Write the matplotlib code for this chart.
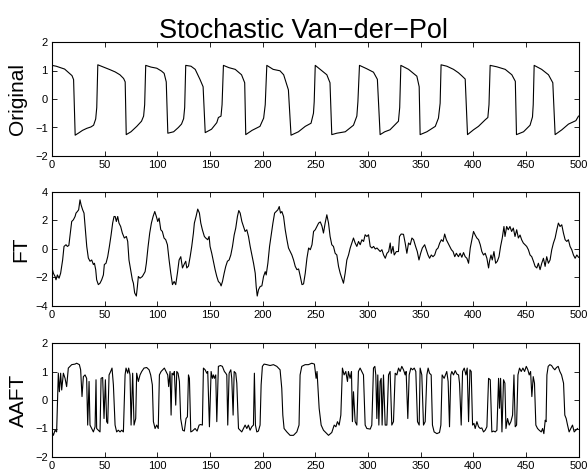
import matplotlib
matplotlib.use('Agg')
import matplotlib.pyplot as plt

# values
orig_t = [0, 4, 8, 12, 16, 19, 20.5, 22, 25, 29, 33, 37, 39.5, 41.5, 42.5, 43.5, 49, 55, 60, 64.5, 68, 69.5,
          70.5, 75, 80.5, 85, 87, 88, 89, 94, 99.5, 104, 106.5, 108.5, 110, 115.5, 120, 123, 125, 126, 127,
          132, 136, 140.5, 143.5, 145.5, 151.5, 156.5, 158, 160.5, 161.5, 162.8, 168, 174, 180, 183, 184,
          190, 197.5, 201, 202.5, 204, 210, 216.5, 220, 224.5, 227, 234, 240.5, 246, 248.3, 249, 250,
          254.6, 261, 264, 265.7, 270.5, 278.5, 286.3, 289.5, 290.5, 292, 299, 305.3, 309, 311.6, 316, 321,
          329, 330.2, 331.3, 338.6, 346.5, 348.7, 349.6, 356, 364, 367, 368.6, 369.5, 375, 381.3, 386, 389,
          392.4, 394.6, 400.3, 405, 411.4, 413.9, 415, 416.1, 422.4, 430.4, 436.7, 440, 441.1, 447.8, 454,
          456.3, 457, 457.9, 465, 471.5, 475.6, 477.8, 484.2, 490.5, 495.3, 497.5, 500]
orig_y = [1.18, 1.15, 1.1, 1.05, 0.92, 0.82, 0.68, -1.27, -1.2, -1.1, -1.03, -0.98, -0.92, -0.7, -0.3, 1.2, 1.12,
          1.03, 0.95, 0.85, 0.72, 0.6, -1.25, -1.15, -0.96, -0.78, -0.6, -0.2, 1.18, 1.12, 1.08, 0.98, 0.9, 0.6,
          -1.2, -1.15, -1.0, -0.88, -0.69, -0.3, 1.18, 1.15, 1.04, 0.69, 0.43, -1.18, -1.06, -0.83, -0.65, -0.6,
          -0.2, 1.18, 1.1, 1.04, 0.85, 0.57, -1.25, -1.1, -0.96, -0.67, -0.2, 1.18, 1.04, 0.99, 0.85, 0.32,
          -1.27, -1.15, -0.96, -0.85, -0.5, -0.1, 1.18, 1.04, 0.85, 0.57, -1.25, -1.2, -1.15, -0.92, -0.6,
          -0.1, 1.18, 1.06, 0.94, 0.69, -1.25, -1.15, -1.08, -0.78, -0.3, 1.18, 1.04, 0.8, 0.43, -1.25, -1.15,
          -0.96, -0.67, -0.15, 1.2, 1.15, 1.04, 0.92, 0.82, 0.7, -1.25, -1.08, -0.96, -0.73, -0.65, -0.2, 1.18,
          1.13, 1.04, 0.85, 0.62, -1.25, -1.15, -0.92, -0.63, -0.2, 1.18, 1.04, 0.85, 0.57, -1.25, -1.08,
          -0.88, -0.8, -0.76, -0.6]

ft_t = [0, 1.3, 2.9, 3.8, 5.1, 6.7, 8.2, 10.1, 11.4, 13.3, 14.6, 16, 17.7, 18.7, 20.3, 21.9, 22.8, 24.1, 25.3,
        26.6, 27.6, 29.1, 30.4, 32, 33, 34.5, 36.1, 37.7, 39.3, 40.3, 41.5, 42.4, 44, 45.6, 47.2, 48.8, 49.7,
        51.3, 52.9, 54.5, 56.1, 57.6, 58.9, 60, 61.1, 62.4, 63.6, 65.2, 66.8, 68.7, 70.6, 71.9, 73.1, 74.7,
        76.3, 77.3, 78.5, 80.1, 81.1, 82, 83.6, 85.8, 88.4, 89.6, 91.2, 92.8, 94.4, 96, 97.6, 99.1, 100.4,
        101.7, 103.3, 104.8, 106.4, 108, 109.6, 111.2, 112.8, 114.4, 116, 117.5, 119.1, 120.7, 122.3, 123.9,
        125.4, 127, 128, 129.6, 131.2, 132.7, 134.3, 135.2, 136.8, 138.4, 140, 141.3, 142.8, 144.7, 146,
        147.9, 149.2, 150.1, 151.7, 153.3, 154.9, 156.5, 158, 159.6, 160.6, 161.9, 163.5, 165, 166.6, 168.2,
        169.8, 171.4, 173, 174.5, 176.1, 177.4, 178.7, 180.3, 181.9, 183.4, 185, 186.6, 188.2, 189.8, 191.4,
        193, 193.9, 194.9, 196.1, 197.7, 199.3, 200.9, 202.5, 203.4, 205, 206.6, 208.2, 209.8, 211.4, 212.9,
        214.5, 215.8, 217, 218.3, 219.9, 221.5, 223.1, 224.6, 226.2, 227.8, 229.4, 231, 232.6, 234.2, 235.8,
        237.4, 238.9, 240.5, 242.1, 243.7, 245.3, 246.9, 248.4, 250, 251.6, 253.2, 254.8, 256.4, 257.8,
        259.4, 261, 262.6, 264.1, 265.7, 267.3, 268.9, 270.5, 272.1, 273.7, 275.2, 276.8, 278.4, 280, 281.6,
        283.2, 284.8, 286.3, 287.9, 289.5, 291.1, 292.7, 294.3, 295.9, 297.4, 299, 300.6, 302.2, 303.8,
        305.4, 307, 308.6, 310.1, 311.7, 313.3, 314.9, 316.5, 318.1, 319.7, 321.2, 322.2, 323.8, 325, 327,
        329, 330, 331.6, 333.8, 335.4, 337, 338.6, 340.2, 341.8, 343.4, 345.3, 346.9, 348.5, 350.1, 351.7,
        353.9, 355.5, 357.1, 358.6, 360.2, 361.8, 363.4, 365, 366.6, 368.2, 369.8, 371.4, 372.9, 374.5,
        376.1, 377.7, 379.3, 380.9, 382.5, 384, 386, 387.6, 389.2, 390.8, 392.4, 394, 395.6, 397.2, 398.7,
        400.3, 401.9, 403.5, 405.1, 406.7, 408.2, 409.8, 411.4, 413, 414.6, 415.5, 416.9, 418.1, 419.7,
        421.3, 422.9, 424.5, 426, 427.6, 429.2, 430.2, 431.8, 433.3, 434.9, 436.5, 438.1, 439.7, 441.3,
        442.9, 444.5, 446, 447.6, 449.2, 450.8, 452.4, 454, 455.6, 457.2, 458.8, 460.4, 461.9, 463.5, 465.1,
        466.7, 468.3, 469.8, 471.4, 473, 474.6, 476.2, 477.8, 479.4, 480.9, 482.5, 484.1, 485.7, 487.3,
        488.9, 490.4, 492, 493.6, 495.2, 496.8, 498.4, 500]
ft_y = [-1.33, -1.7, -1.93, -2.16, -1.82, -2.05, -1.7, -0.77, 0.18, 0.3, 0.18, 0.25, 1.35, 1.93, 2.05, 2.28, 2.52,
        2.63, 2.75, 3.45, 3.1, 2.75, 2.52, 1.12, 0.18, -0.63, -0.86, -0.77, -1.09, -1.0, -1.45, -2.16, -2.5,
        -2.4, -2.16, -1.82, -1.09, -1.0, -0.54, 0.18, 0.98, 1.82, 2.28, 2.28, 1.93, 2.28, 1.82, 1.58, 1.12,
        0.77, 0.88, 0.53, -0.77, -1.45, -2.16, -2.4, -3.08, -3.3, -2.63, -1.93, -2.05, -1.93, -1.59, -1.0,
        0.14, 1.12, 1.82, 2.28, 2.63, 2.28, 1.93, 2.17, 1.35, 1.23, 0.77, 0.65, 0.3, -0.77, -1.7, -2.5,
        -2.28, -2.5, -1.7, -0.77, -0.54, -1.33, -1.09, -0.86, -1.33, -1.2, -0.54, 0.18, 1.12, 1.82, 2.28,
        2.8, 2.52, 1.82, 1.35, 0.88, 0.77, 0.65, 0.88, 0.18, -0.3, -0.86, -1.45, -1.93, -2.28, -2.4, -2.59,
        -2.28, -1.7, -1.22, -0.86, -0.77, -0.42, 0.18, 0.98, 1.47, 2.28, 2.7, 2.52, 1.93, 1.58, 1.23, 1.35,
        0.88, 0.18, -0.42, -1.0, -1.7, -2.63, -3.3, -2.86, -2.63, -2.59, -1.93, -1.59, -1.82, -1.0, 0.18,
        0.98, 1.82, 2.52, 2.63, 2.75, 2.98, 2.52, 2.63, 2.28, 1.35, 0.65, 0.07, -0.18, -0.42, -0.77, -1.22,
        -1.45, -1.4, -1.93, -2.5, -2.45, -1.7, -0.65, 0.07, -0.05, 0.3, 1.23, 1.35, 1.58, 1.82, 1.9, 1.6,
        1.12, 1.82, 2.4, 1.82, 0.88, 0.3, 0.18, -0.3, -0.42, -1.22, -1.7, -2.05, -2.4, -1.7, -0.77, -0.42,
        0.07, 0.42, 0.77, 0.42, 0.18, 0.53, 0.3, 0.65, 0.53, 1.0, 0.88, 1.0, 0.18, 0.07, 0.18, 0.0, 0.07,
        -0.05, -0.18, -0.05, -0.42, -0.65, -0.3, -0.18, 0.42, -0.3, 0.18, -0.42, -0.18, -0.18, 0.88, 1.05,
        1.03, 0.42, -0.3, 0.42, 0.3, 0.77, 0.65, 0.18, -0.18, -0.77, -0.3, 0.07, 0.3, -0.05, -0.42, -0.65,
        -0.42, -0.54, -0.42, -0.05, 0.07, 0.42, 0.65, 0.53, 1.05, 0.65, 0.42, 0.18, -0.05, -0.18, -0.54,
        -0.3, -0.54, -0.3, -0.58, -0.25, -0.54, -0.65, -1.0, 0.07, 0.65, 1.23, 0.98, 0.77, 0.65, 0.3, -0.18,
        -0.42, -0.3, -0.65, -1.33, -0.86, -0.42, -0.77, -0.18, -1.0, -0.86, -0.54, 0.18, 0.77, 1.58, 0.88,
        1.58, 1.35, 1.58, 1.23, 1.47, 0.88, 1.35, 0.77, 0.98, 0.65, 0.42, 0.3, 0.18, -0.05, -0.42, -0.54,
        -0.86, -1.22, -1.33, -1.0, -1.45, -1.0, -0.65, -1.22, -0.54, -1.0, -0.77, -0.05, 0.42, 0.77, 1.35,
        1.82, 1.58, 1.7, 1.12, 0.65, 0.53, 0.65, 0.18, -0.05, -0.42, -0.65, -0.42, -0.58]

aaft_t = [0, 1.3, 2.9, 4.4, 6, 7, 8.2, 9.2, 10.8, 12.4, 13.9, 15.5, 17.1, 18.7, 21.9, 23.4, 26, 27.2, 28.5, 29.8,
          31.4, 32.9, 33.9, 35.2, 36.1, 37.7, 39.3, 40.9, 41.8, 42.4, 44, 45.6, 46.6, 48.1, 49.4, 50.7, 51.9,
          52.9, 54.2, 55.7, 57, 58.3, 59.9, 61.4, 63, 64.6, 66.2, 67.8, 69.4, 70.3, 71.9, 72.8, 74.1, 75.1,
          76.6, 77.9, 79.5, 80.4, 82, 83.6, 85.2, 87.4, 89.9, 92.2, 93.7, 95.3, 96.3, 97.9, 99.4, 100.9, 102,
          103.6, 105.1, 106.7, 108.3, 109.9, 110.8, 112.1, 113.1, 114, 115.3, 116.2, 117.5, 118.5, 119.7, 121,
          122.2, 124.1, 125.7, 127.3, 128.6, 129.6, 130.5, 131.8, 133.3, 135.9, 137.8, 139.7, 141.2, 142.8,
          143.8, 145.4, 147, 147.9, 149.5, 151.1, 152.3, 153.3, 154.2, 155.5, 156.5, 158, 160, 161.8, 163.7,
          165, 166, 166.9, 168.2, 169.8, 170.7, 172, 173, 174.5, 175.5, 177.1, 180.2, 181.8, 183.4, 185,
          186.5, 188.1, 189.7, 191.3, 192.2, 193.2, 194.5, 196, 197.6, 198.6, 199.8, 201.4, 204, 207.1, 210.3,
          213.5, 216.6, 218.2, 219.2, 220.4, 223, 226.1, 229.3, 232.5, 234.6, 235.6, 237.2, 240.4, 243.5,
          246.7, 249.2, 250.8, 251.7, 253.7, 255.6, 257.8, 259.4, 262.6, 265.7, 268, 269.6, 271.1, 272.7,
          274.3, 275.8, 277.4, 279, 280.6, 281.5, 283.1, 284.4, 285.3, 286.3, 287.9, 289.5, 291, 292.6, 294.2,
          295.8, 297.4, 299, 302.2, 303.7, 305.3, 306.6, 307.5, 308.5, 309.4, 310.4, 311.6, 312.6, 313.5,
          314.8, 316.4, 318, 319.6, 321.1, 322.7, 324.3, 325.9, 327.5, 329.1, 330.6, 332.2, 333.8, 335.4,
          336.3, 337.9, 339.2, 340.8, 342.4, 344, 345.5, 347.1, 348.7, 349.6, 351.2, 352.8, 354.4, 356, 357.2,
          358.5, 360.1, 361.3, 362.9, 365.5, 368, 369.3, 370.5, 372.4, 373.7, 374.9, 376.2, 377.5, 378.7,
          379.7, 381.3, 382.9, 384.5, 386.1, 387, 388.6, 389.9, 391.5, 393.1, 394.3, 395.6, 396.9, 398.1,
          399.4, 400.7, 401.9, 403.5, 405.1, 406.7, 408.2, 409.8, 411.4, 413, 414.6, 416.2, 417.7, 419.3,
          420.9, 422.5, 424.1, 425, 426, 427.3, 428.8, 430.1, 431.1, 432.6, 434.2, 435.8, 437.4, 438.7, 439.9,
          441.2, 442.5, 444, 445.6, 447.2, 448.8, 450.4, 451.9, 453.2, 454.5, 455.7, 457, 458.2, 459.5, 461.1,
          462.7, 464.6, 465.9, 467.1, 468.4, 469.2, 470, 471.2, 472.8, 474.4, 476, 477.5, 479.1, 480.7, 482.3,
          483.9, 485.8, 487, 488.3, 489.6, 491.1, 492.7, 494.3, 495.9, 497.5, 499.1]
aaft_y = [-1.12, -1.24, -1.06, -1.12, 0.94, 0.29, 0.94, 0.35, 0.94, 0.76, 0.47, 1.12, 1.18, 1.24, 1.26, 1.29,
          1.24, 1.06, 0.12, 0.82, 0.88, 0.76, -0.88, 0.65, -0.88, -1.0, -1.12, -0.94, 0.71, -1.0, -1.06,
          -1.12, 0.76, 0.79, -0.65, 0.71, -0.76, -0.82, 0.88, 1.0, 1.12, 0.53, -0.88, -1.12, -1.06, -1.12,
          -1.06, -1.12, 0.88, 1.12, 0.94, 1.12, 0.88, -0.88, 0.94, -0.88, -0.65, 0.94, 0.65, 0.88, 1.0, 1.12,
          1.14, 1.06, 0.88, 0.53, -0.76, -1.0, -0.88, -1.0, 0.88, 1.0, 1.06, 1.12, 1.0, 0.88, 0.47, 1.0,
          -0.53, 0.94, 0.88, 1.0, -0.18, 1.0, 0.94, 0.65, -0.65, -1.06, -1.09, -0.65, -0.59, 0.88, 0.76,
          -1.12, -1.09, -1.0, -1.09, -0.88, -0.86, -0.88, 1.12, 1.06, 0.94, 1.0, -0.94, 1.0, 0.76, 0.88, 0.76,
          0.88, -0.76, 1.18, 1.21, 1.18, 1.0, 0.94, 0.88, -0.88, 0.94, 1.06, 0.76, -0.53, 1.0, 0.94, 0.59,
          -1.0, -1.12, -1.0, -0.88, -1.0, -0.88, -1.06, -0.94, -0.88, 0.94, -0.88, -1.12, -1.09, -0.88, 0.53,
          1.18, 1.26, 1.24, 1.21, 1.24, 1.18, 1.06, 0.41, -0.53, -1.0, -1.12, -1.24, -1.24, -1.12, -0.88,
          0.88, 1.18, 1.24, 1.24, 1.29, 1.26, 0.76, 1.0, -0.29, -0.88, -1.06, -1.12, -1.24, -1.14, -0.88,
          -0.94, -0.76, -0.88, -0.53, 1.12, 0.88, 1.0, 0.65, 1.0, 0.76, 1.0, -0.76, 0.29, -0.76, -0.88, 1.0,
          1.12, 1.0, 0.88, -0.88, -1.0, -1.02, -0.88, 1.12, 1.18, 0.88, -0.65, 0.88, -0.88, 0.65, 0.76,
          -0.88, 0.88, -0.88, -0.88, 0.88, 1.0, -0.88, -0.76, 0.94, 0.88, 1.12, 1.0, 1.18, 1.06, 0.88, 1.0,
          -0.65, 0.88, 1.12, 1.06, 1.12, 1.0, -0.76, -0.88, 1.12, 0.88, -0.88, -0.76, 0.88, 1.12, 0.94, 0.88,
          -0.88, -1.12, -1.18, -1.14, -0.88, 0.88, 0.76, 0.88, 1.0, 0.65, -0.94, 0.88, 1.0, 0.88, 1.03, 0.91,
          0.88, 0.59, -0.88, 1.0, 1.12, 0.88, 1.12, -0.76, 1.06, 1.0, -0.88, -0.82, -1.0, -0.76, -0.94, -1.0,
          -0.98, -1.12, -1.06, -0.94, 0.76, 0.71, -1.12, -1.09, -1.12, -1.06, 0.76, -0.29, 0.76, -1.12, 0.71,
          0.59, -1.0, -0.65, -0.88, -0.76, -0.53, 0.88, -0.94, -0.88, 0.88, 1.12, 1.0, 1.12, 1.0, 1.18, 1.06,
          0.88, 1.0, 0.12, 0.82, 0.59, -0.88, -1.0, -1.06, -1.12, -1.0, -1.18, -0.71, -0.76, 0.88, 1.18,
          1.24, 1.21, 1.12, 1.06, 1.14, 1.18, 1.0, 0.88, 0.59, -0.53, -0.65, -0.88, -1.12, -1.0, -0.88, -1.12,
          -1.06, -1.0]

labels = ['Original', 'FT', 'AAFT']
ylims = [(-2, 2), (-4, 4), (-2, 2)]
yticks = [[-2, -1, 0, 1, 2], [-4, -2, 0, 2, 4], [-2, -1, 0, 1, 2]]
xticks = list(range(0, 501, 50))

plt.rcParams['font.family'] = ['Liberation Sans', 'DejaVu Sans']

W, H = 588, 471
fig = plt.figure(figsize=(W / 100, H / 100), dpi=100)

series = [(orig_t, orig_y), (ft_t, ft_y), (aaft_t, aaft_y)]
tops = [42, 192, 343]
label_x = [17, 21, 18]
ph = 114
for i in range(3):
    ax = fig.add_axes([52 / W, 1 - (tops[i] + ph) / H, 526.5 / W, ph / H])
    ax.plot(series[i][0], series[i][1], color='k', lw=0.8)
    ax.set_xlim(0, 500)
    ax.set_ylim(*ylims[i])
    ax.set_xticks(xticks)
    ax.set_yticks(yticks[i])
    ax.tick_params(direction='in', top=True, right=True, length=3.5, width=0.6,
                   labelsize=8, pad=3)
    for s in ax.spines.values():
        s.set_linewidth(0.8)
    fig.text(label_x[i] / W, 1 - (tops[i] + ph / 2) / H, labels[i], rotation=90,
             ha='center', va='center', fontsize=15)

# title, a bit left of the axes centre as in the reference
fig.text(303.5 / W, 1 - 38 / H, 'Stochastic Van\u2212der\u2212Pol', ha='center', va='baseline',
         fontsize=19.5)

fig.savefig('out.png', dpi=100)
